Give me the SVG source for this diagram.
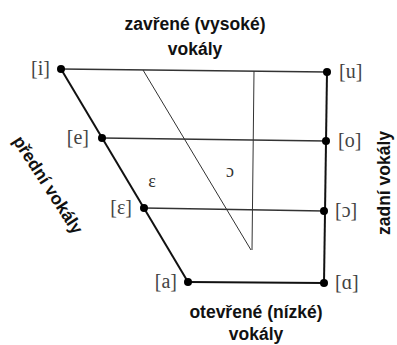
<svg xmlns="http://www.w3.org/2000/svg" width="397" height="345" viewBox="0 0 397 345">
<style>
.lbl{font-family:"Liberation Sans",Arial,sans-serif;font-weight:bold;font-size:17.5px;fill:#111}
.ipa{font-family:"Liberation Serif","DejaVu Serif",serif;font-size:20px;fill:#444}
.v{font-family:"Liberation Serif","DejaVu Serif",serif;font-size:18px;fill:#333}
.thick{stroke:#111;stroke-width:2;fill:none}
.mid{stroke:#333;stroke-width:1.5;fill:none}
.thin{stroke:#333;stroke-width:1;fill:none}
.dot{fill:#000}
</style>
<g id="connectors">
<line class="mid" x1="61" y1="69" x2="327" y2="72"/>
<line class="mid" x1="102" y1="138" x2="326" y2="141"/>
<line class="mid" x1="144" y1="208" x2="324" y2="211"/>
<line class="thick" x1="188" y1="282" x2="324" y2="283"/>
<line class="thick" x1="61" y1="69" x2="188" y2="282"/>
<line class="thick" x1="327" y1="72" x2="324" y2="283"/>
<line class="thin" x1="143" y1="70" x2="251" y2="250"/>
<line class="thin" x1="254" y1="71" x2="252" y2="250"/>
</g>
<g id="node-i"><circle class="dot" cx="61" cy="69" r="4"/><text class="ipa" x="50" y="75" text-anchor="end">[i]</text></g>
<g id="node-e"><circle class="dot" cx="102" cy="138" r="4"/><text class="ipa" x="89" y="144" text-anchor="end">[e]</text></g>
<g id="node-eps"><circle class="dot" cx="144" cy="208" r="4"/><text class="ipa" x="132" y="214" text-anchor="end">[ɛ]</text></g>
<g id="node-a"><circle class="dot" cx="188" cy="282" r="4"/><text class="ipa" x="177" y="288" text-anchor="end">[a]</text></g>
<g id="node-u"><circle class="dot" cx="327" cy="72" r="4"/><text class="ipa" x="339" y="78">[u]</text></g>
<g id="node-o"><circle class="dot" cx="326" cy="141" r="4"/><text class="ipa" x="338" y="147">[o]</text></g>
<g id="node-openo"><circle class="dot" cx="324" cy="211" r="4"/><text class="ipa" x="335" y="217">[ɔ]</text></g>
<g id="node-alpha"><circle class="dot" cx="324" cy="283" r="4"/><text class="ipa" x="335" y="289">[ɑ]</text></g>
<g id="inner-labels">
<text class="v" x="152" y="187" text-anchor="middle">ɛ</text>
<text class="v" x="230" y="177" text-anchor="middle">ɔ</text>
</g>
<g id="axis-labels">
<text class="lbl" x="195" y="30" text-anchor="middle">zavřené (vysoké)</text>
<text class="lbl" x="195" y="55" text-anchor="middle">vokály</text>
<text class="lbl" x="256" y="318" text-anchor="middle">otevřené (nízké)</text>
<text class="lbl" x="256" y="340" text-anchor="middle">vokály</text>
<text class="lbl" transform="translate(390,183) rotate(-90)" text-anchor="middle">zadní vokály</text>
<text class="lbl" transform="translate(43,188) rotate(57)" text-anchor="middle">přední vokály</text>
</g>
</svg>
